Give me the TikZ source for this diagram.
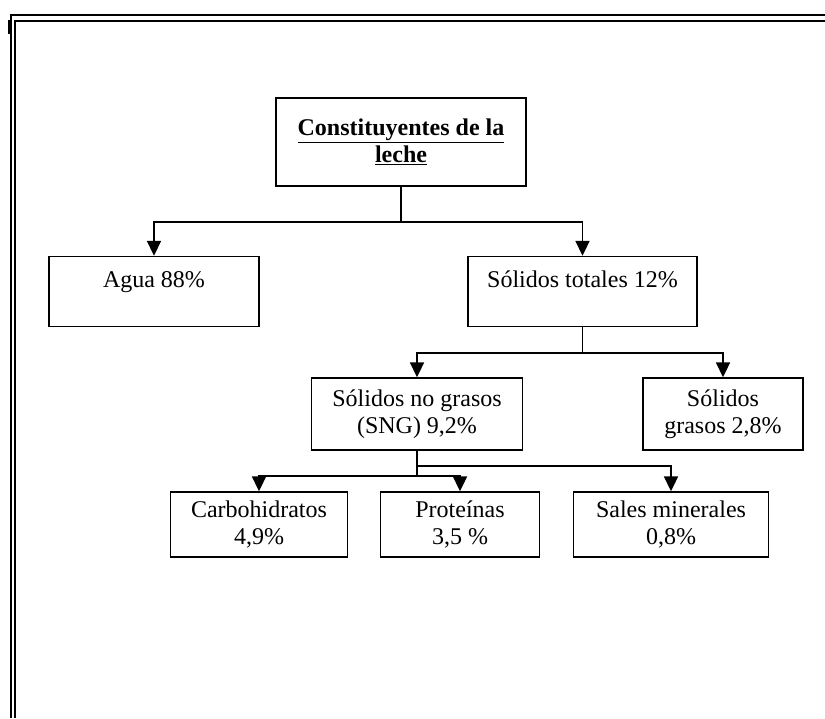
\documentclass[tikz,border=0pt]{standalone}
\usepackage{fontspec}
\setmainfont{Liberation Serif}
\usepackage{tikz}
\usetikzlibrary{arrows.meta}
\usetikzlibrary{positioning}

\begin{document}
\begin{tikzpicture}[x=0.75pt,y=0.75pt,yscale=-1,xscale=1]
 \useasboundingbox (0,0) rectangle (825,718);
 \tikzstyle{arrow} = [line width=1.3pt,-{Triangle[length=11pt,width=10.5pt]}]
 \tikzstyle{link} = [line width=1.3pt]
 \tikzstyle{caja} = [draw,line width=1.3pt,rectangle,align=center,inner sep=0pt,font=\fontsize{18}{20}\selectfont]
 \tikzstyle{arriba} = [text height=13pt,text depth=19.75pt]
  %Draw the double frame
 \draw [line width=1.4pt] (11,718) -- (11,15) -- (825,15);
 \draw [line width=1.4pt] (15,718) -- (15,21) -- (825,21);
 \fill [black] (8,20) rectangle (11,34);

  %Draw the boxes (sizes in pt, 1px = 0.75pt)
 \node [caja,minimum width=187.5pt,minimum height=66pt] (leche) at (401,142)
   {\textbf{\underline{Constituyentes de la}}\\\textbf{\underline{leche}}};
 \node [caja,arriba,minimum width=157.5pt,minimum height=52.5pt] (agua) at (154,291.5) {Agua 88\%};
 \node [caja,arriba,minimum width=171.75pt,minimum height=52.5pt] (totales) at (582.5,291.5) {Sólidos totales 12\%};
 \node [caja,minimum width=158.25pt,minimum height=54pt] (sng) at (417,414) {Sólidos no grasos\\(SNG) 9,2\%};
 \node [caja,minimum width=120pt,minimum height=54pt] (grasos) at (723,414) {Sólidos\\grasos 2,8\%};
 \node [caja,minimum width=132.75pt,minimum height=48.75pt] (carbo) at (259,524.5) {Carbohidratos\\4,9\%};
 \node [caja,minimum width=119.25pt,minimum height=48.75pt] (prot) at (460,524.5) {Proteínas\\3,5 \%};
 \node [caja,minimum width=146.25pt,minimum height=48.75pt] (sales) at (671,524.5) {Sales minerales\\0,8\%};

  %Branch points
 \coordinate (j1) at (401,222);
 \coordinate (j2) at (582.5,353);
 \coordinate (j3) at (417,466);
 \coordinate (j4) at (417,476);

  %Draw connectors
 \draw [link] (leche.south) -- (j1);
 \draw [arrow] (j1) -| (agua.north);
 \draw [arrow] (j1) -| (totales.north);
 \draw [link] (totales.south) -- (j2);
 \draw [arrow] (j2) -| (sng.north);
 \draw [arrow] (j2) -| (grasos.north);
 \draw [link] (sng.south) -- (j4);
 \draw [arrow] (j3) -| (sales.north);
 \draw [arrow] (j4) -| (carbo.north);
 \draw [arrow] (j4) -| (prot.north);

\end{tikzpicture}
\end{document}
